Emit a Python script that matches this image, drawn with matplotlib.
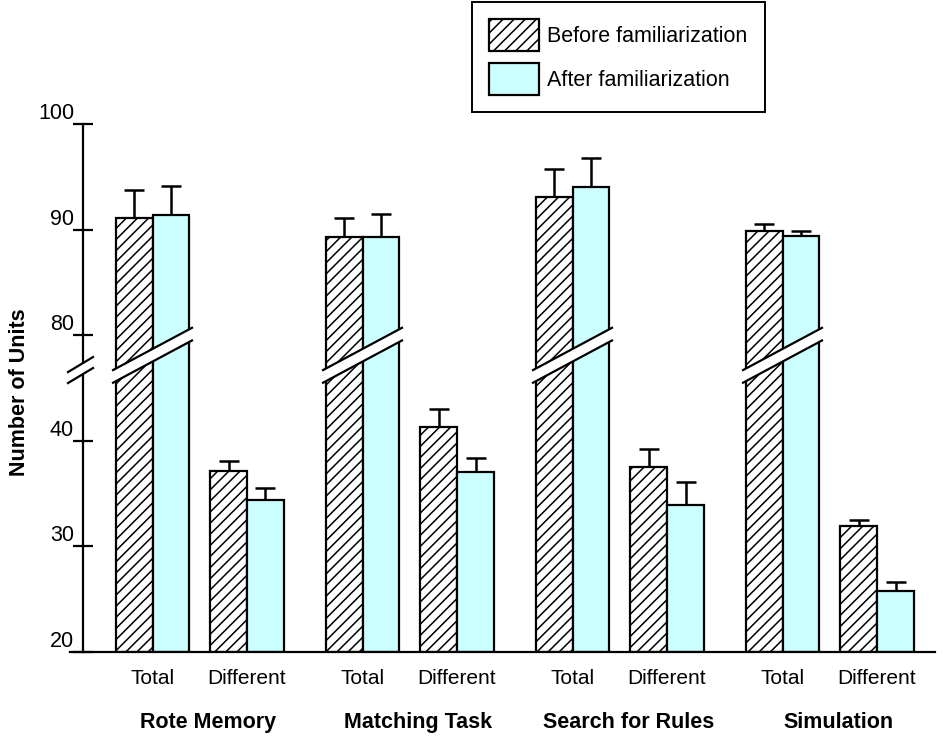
import numpy as np
import matplotlib
matplotlib.use("Agg")
import matplotlib.pyplot as plt
from matplotlib.patches import Polygon

plt.rcParams['font.family'] = ['Liberation Sans', 'DejaVu Sans']
plt.rcParams['hatch.linewidth'] = 1.1

groups = ['Rote Memory', 'Matching Task', 'Search for Rules', 'Simulation']
measures = ['Total', 'Different']

# values (upper error only)
before_total = [91.1, 89.3, 93.1, 89.9]
before_total_err = [2.65, 1.8, 2.6, 0.6]
after_total = [91.4, 89.3, 94.0, 89.4]
after_total_err = [2.7, 2.2, 2.75, 0.5]
before_diff = [37.1, 41.3, 37.5, 31.9]
before_diff_err = [1.0, 1.7, 1.7, 0.6]
after_diff = [34.4, 37.0, 33.9, 25.8]
after_diff_err = [1.1, 1.4, 2.2, 0.8]

yticks = [20, 30, 40, 80, 90, 100]


def brk(v):
    # axis is broken between ~40 and 80
    v = np.asarray(v, dtype=float)
    return np.where(v >= 60, v - 30, v)


fill_after = '#CCFFFF'
w = 0.176
off = 0.45
x = np.arange(len(groups))

fig = plt.figure(figsize=(9.43, 7.39), dpi=100)
ax = fig.add_axes([83 / 943, 1 - 652 / 739, 852 / 943, 528 / 739])

bot = 20
kw = dict(edgecolor='black', linewidth=1.6, zorder=2)
ax.bar(x - w / 2, brk(before_total) - bot, w, bottom=bot, color='white', hatch='///', **kw)
ax.bar(x + w / 2, brk(after_total) - bot, w, bottom=bot, color=fill_after, **kw)
ax.bar(x + off - w / 2, brk(before_diff) - bot, w, bottom=bot, color='white', hatch='///', **kw)
ax.bar(x + off + w / 2, brk(after_diff) - bot, w, bottom=bot, color=fill_after, **kw)

ekw = dict(fmt='none', ecolor='black', elinewidth=1.8, capsize=7, capthick=1.8, zorder=1)
ax.errorbar(x - w / 2, brk(before_total), yerr=[np.zeros(4), before_total_err], **ekw)
ax.errorbar(x + w / 2, brk(after_total), yerr=[np.zeros(4), after_total_err], **ekw)
ax.errorbar(x + off - w / 2, brk(before_diff), yerr=[np.zeros(4), before_diff_err], **ekw)
ax.errorbar(x + off + w / 2, brk(after_diff), yerr=[np.zeros(4), after_diff_err], **ekw)

# break band across the Total bars
th = 0.6
for xi in x:
    x0, x1 = xi - w - 0.012, xi + w + 0.012
    y0, y1 = 46.1, 50.1
    ax.add_patch(Polygon([(x0, y0 - th), (x1, y1 - th), (x1, y1 + th), (x0, y0 + th)],
                         closed=True, facecolor='white', edgecolor='none', zorder=3))
    ax.plot([x0, x1], [y0 + th, y1 + th], color='black', lw=1.6, zorder=4)
    ax.plot([x0, x1], [y0 - th, y1 - th], color='black', lw=1.6, zorder=4)

ax.set_xlim(-0.331, 3.726)
ax.set_ylim(20, 70)

for s in ['top', 'right', 'bottom']:
    ax.spines[s].set_visible(False)
ax.spines['left'].set_linewidth(1.6)
ax.plot([-13 / 852, 1.0], [0, 0], transform=ax.transAxes, color='black', lw=1.6, clip_on=False)

ax.set_yticks(brk(yticks))
ax.set_yticklabels([])
ax.tick_params(axis='y', direction='inout', length=14, width=1.6)
for t in yticks:
    ax.text(-9 / 852, brk(t), str(t), transform=ax.get_yaxis_transform(),
            ha='right', va='bottom', fontsize=15.5)

# y-axis break marks
yc = (46.7 - 20) / 50
dx0, dx1 = -15 / 852, 10 / 852
dy = 7.5 / 528
g = 5.5 / 528
ax.add_patch(Polygon([(dx0, yc - g - dy), (dx1, yc - g + dy), (dx1, yc + g + dy), (dx0, yc + g - dy)],
                     closed=True, transform=ax.transAxes, facecolor='white', edgecolor='none',
                     clip_on=False, zorder=5))
for s in (-g, g):
    ax.plot([dx0, dx1], [yc + s - dy, yc + s + dy], transform=ax.transAxes,
            color='black', lw=1.6, clip_on=False, zorder=6)

ticks = np.concatenate([x, x + off])
ax.set_xticks(ticks)
ax.set_xticklabels(measures[:1] * len(x) + measures[1:] * len(x), fontsize=15)
ax.tick_params(axis='x', length=0, pad=12)

for xi, name in zip(x, groups):
    ax.text(xi + off / 2 + 0.04, -0.134, name, transform=ax.get_xaxis_transform(),
            ha='center', va='center', fontsize=15.5, fontweight='bold')

fig.text(20 / 943, 1 - 392 / 739, 'Number of Units', rotation=90, ha='center', va='center',
         fontsize=15.5, fontweight='bold')

handles = ax.containers[:2]
leg = fig.legend([handles[0], handles[1]], ['Before familiarization', 'After familiarization'],
                 loc='upper left', bbox_to_anchor=(472 / 943, 1 - 2 / 739), fontsize=15.5,
                 handlelength=2.3, handleheight=1.9, handletextpad=0.4, labelspacing=0.55,
                 borderpad=0.8, borderaxespad=0, fancybox=False, framealpha=1, edgecolor='black')
leg.get_frame().set_linewidth(1.4)

fig.savefig('out.png', dpi=100)
